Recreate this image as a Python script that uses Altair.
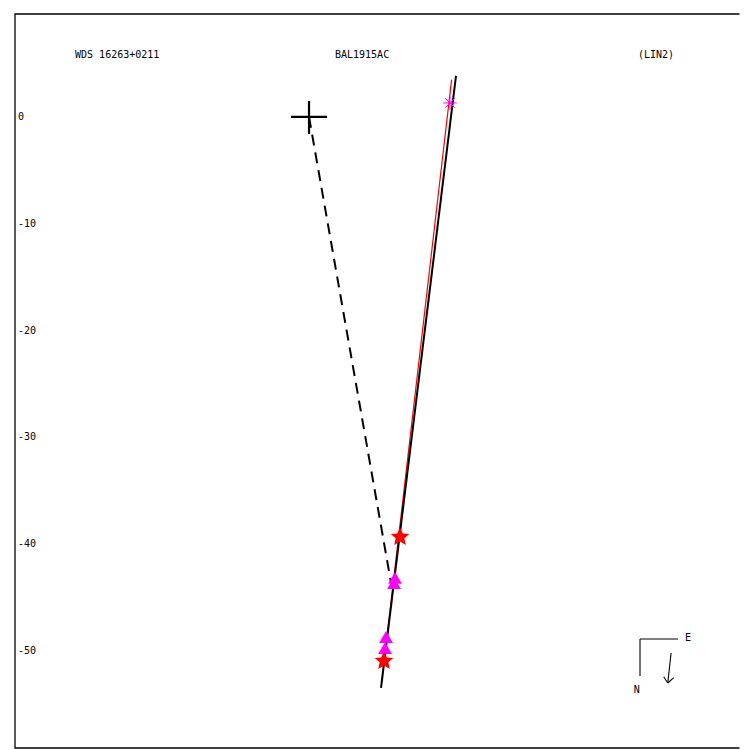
import altair as alt
import pandas as pd

# --- data (plot coordinates, arcsec) ---
y_ticks = [0, -10, -20, -30, -40, -50]
y_tick_labels = ["0", "-10", "-20", "-30", "-40", "-50"]

star_x = [8.52, 7.02]
star_y = [-39.33, -50.94]

tri_x = [8.05, 7.96, 7.21, 7.12]
tri_y = [-43.16, -43.63, -48.69, -49.72]

ast_x = [13.20]
ast_y = [1.31]

fit_line = [(13.76, 3.84), (6.74, -53.46)]
eph_line = [(13.35, 3.5), (6.80, -53.0)]
dash_line = [(0.0, 0.0), (7.68, -43.63)]
cross_segs = [(-1.69, 0.0, 1.69, 0.0), (0.0, 1.5, 0.0, -1.6)]
compass_segs = [(30.99, -48.88, 34.55, -48.88), (30.99, -48.88, 30.99, -52.34),
                (33.90, -50.19, 33.59, -53.00), (33.59, -53.00, 33.21, -52.41),
                (33.59, -53.00, 34.15, -52.50)]
compass_txt = ["E", "N"]
compass_tx = [35.2, 30.4]
compass_ty = [-48.78, -53.65]
titles = ["WDS 16263+0211", "BAL1915AC", "(LIN2)"]
title_x = [-21.91, 2.43, 30.80]
title_y = [5.81, 5.81, 5.81]

PX = 10.68  # pixels per arcsec
PLOT_H = 734
XDOM = [-27.53, 40.54]
YDOM = [9.64 - PLOT_H / PX, 9.64]
FONT = "DejaVu Sans Mono"
XR = XDOM[1] + 5.0

frame_pts = pd.DataFrame({"x": [XR, XDOM[0], XDOM[0], XR],
                          "y": [YDOM[1], YDOM[1], YDOM[0], YDOM[0]],
                          "o": [0, 1, 2, 3]})
cover = pd.DataFrame({"x": [XDOM[1]], "y": [YDOM[1] + 1], "y2": [YDOM[0] - 1]})
label_x = XDOM[0] + 0.28

xs = alt.Scale(domain=XDOM, nice=False, zero=False)
ys = alt.Scale(domain=YDOM, nice=False, zero=False)

def X(f="x:Q"):
    return alt.X(f, scale=xs, axis=None)

def Y(f="y:Q"):
    return alt.Y(f, scale=ys, axis=None)

def seg_df(segs):
    return pd.DataFrame(segs, columns=["x", "y", "x2", "y2"])

def line_df(pts):
    return pd.DataFrame(pts, columns=["x", "y"])

frame = alt.Chart(frame_pts).mark_line(color="black", strokeWidth=1.3, clip=False).encode(
    x=X(), y=Y(), order="o:Q")

cover_rule = alt.Chart(cover).mark_rule(color="white", strokeWidth=5, clip=False).encode(
    x=X(), y=Y(), y2="y2:Q")

ylab = alt.Chart(pd.DataFrame({"t": y_tick_labels, "y": y_ticks, "x": [label_x] * len(y_ticks)})).mark_text(
    font=FONT, fontSize=10, align="left", baseline="middle", color="black").encode(
    x=X(), y=Y(), text="t:N")

eph = alt.Chart(line_df(eph_line)).mark_line(color="red", strokeWidth=1.2).encode(x=X(), y=Y())

fit = alt.Chart(line_df(fit_line)).mark_line(color="black", strokeWidth=2).encode(x=X(), y=Y())

dash = alt.Chart(line_df(dash_line)).mark_line(color="black", strokeWidth=2,
                                               strokeDash=[11, 7]).encode(x=X(), y=Y())

cross = alt.Chart(seg_df(cross_segs)).mark_rule(color="black", strokeWidth=2.2).encode(
    x=X(), y=Y(), x2="x2:Q", y2="y2:Q")

compass = alt.Chart(seg_df(compass_segs)).mark_rule(color="black", strokeWidth=1.1).encode(
    x=X(), y=Y(), x2="x2:Q", y2="y2:Q")

ctext = alt.Chart(pd.DataFrame({"t": compass_txt, "x": compass_tx, "y": compass_ty})).mark_text(
    font=FONT, fontSize=10, align="left", baseline="middle", color="black").encode(
    x=X(), y=Y(), text="t:N")

ttext = alt.Chart(pd.DataFrame({"t": titles, "x": title_x, "y": title_y})).mark_text(
    font=FONT, fontSize=10, align="left", baseline="middle", color="black").encode(
    x=X(), y=Y(), text="t:N")

tris = alt.Chart(pd.DataFrame({"x": tri_x, "y": tri_y})).mark_point(
    shape="triangle-up", filled=True, color="#ff00ff", size=190, opacity=1).encode(x=X(), y=Y())

star_path = ("M0,-1L0.29,-0.36L0.95,-0.31L0.45,0.14L0.59,0.81L0,0.46"
             "L-0.59,0.81L-0.45,0.14L-0.95,-0.31L-0.29,-0.36Z")
stars = alt.Chart(pd.DataFrame({"x": star_x, "y": star_y})).mark_point(
    shape=star_path, filled=True, color="red", size=380, opacity=1).encode(x=X(), y=Y())

ast_path = "M-1,0L1,0M0,-1L0,1M-0.7,-0.7L0.7,0.7M-0.7,0.7L0.7,-0.7"
ast = alt.Chart(pd.DataFrame({"x": ast_x, "y": ast_y})).mark_point(
    shape=ast_path, filled=False, color="#ff00ff", size=180, strokeWidth=1, opacity=1).encode(x=X(), y=Y())

chart = alt.layer(frame, ylab, dash, eph, fit, cross, tris, stars, ast,
                  compass, ctext, ttext, cover_rule).properties(
    width=727, height=PLOT_H,
    autosize=alt.AutoSizeParams(type="none"),
    padding={"left": 7, "top": 6, "right": 0, "bottom": 2},
).configure(background="white").configure_view(strokeWidth=0, stroke="transparent")

chart.save("out.html", embed_options={"renderer": "svg", "actions": False})
